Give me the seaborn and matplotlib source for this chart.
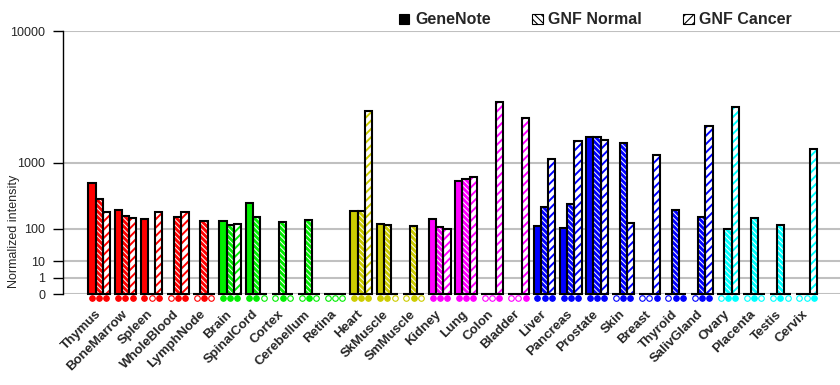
import numpy as np
import pandas as pd
import seaborn as sns
import matplotlib.pyplot as plt
import matplotlib.transforms as mtransforms
from matplotlib.patches import Rectangle, Patch

# data
tissues = ['Thymus', 'BoneMarrow', 'Spleen', 'WholeBlood', 'LymphNode',
           'Brain', 'SpinalCord', 'Cortex', 'Cerebellum', 'Retina',
           'Heart', 'SkMuscle', 'SmMuscle',
           'Kidney', 'Lung', 'Colon', 'Bladder',
           'Liver', 'Pancreas', 'Prostate', 'Skin', 'Breast', 'Thyroid', 'SalivGland',
           'Ovary', 'Placenta', 'Testis', 'Cervix']
groupColors = ['#ff0000'] * 5 + ['#00ee00'] * 5 + ['#cccc00'] * 3 + ['#ff00ff'] * 4 + \
              ['#0000ff'] * 7 + ['#00ffff'] * 4

geneNote = [570, 225, 157, 0, 0, 146, 300, 0, 0, 0, 217, 125, 0, 159, 616, 0, 0,
            116, 105, 1800, 0, 0, 0, 0, 0, 0, 0, 0]
gnfNormal = [343, 182, 0, 171, 146, 117, 171, 139, 150, 0, 217, 119, 116, 110, 652, 0, 0,
             260, 291, 1800, 1605, 0, 232, 169, 96, 167, 119, 0]
gnfCancer = [210, 167, 210, 210, 0, 127, 0, 0, 0, 0, 3030, 0, 0, 98, 691, 3550, 2670,
             1108, 1680, 1716, 133, 1200, 0, 2283, 3260, 0, 0, 1404]

# filled (1) / hollow (0) markers under the bars
markGN = [1, 1, 1, 0, 0, 1, 1, 0, 0, 0, 1, 1, 0, 1, 1, 0, 0, 1, 1, 1, 0, 0, 0, 0, 0, 0, 0, 0]
markNormal = [1, 1, 0, 1, 1, 1, 1, 1, 1, 0, 1, 1, 1, 1, 1, 0, 0, 1, 1, 1, 1, 0, 1, 1, 1, 1, 1, 0]
markCancer = [1, 1, 1, 1, 0, 1, 0, 0, 0, 0, 1, 0, 0, 1, 1, 1, 1, 1, 1, 1, 1, 1, 1, 1, 1, 0, 0, 1]

sources = ['GeneNote', 'GNF Normal', 'GNF Cancer']

df = pd.DataFrame({
    'tissue': tissues * 3,
    'source': np.repeat(sources, len(tissues)),
    'value': geneNote + gnfNormal + gnfCancer,
})

sns.set_style('white')
plt.rcParams['font.family'] = ['Liberation Sans', 'DejaVu Sans']
plt.rcParams['hatch.linewidth'] = 0.8

fig = plt.figure(figsize=(8.4, 3.85), dpi=100)
ax = fig.add_axes([0.0754, 0.2356, 0.9246, 0.6831])

sns.barplot(data=df, x='tissue', y='value', hue='source', order=tissues, hue_order=sources,
            palette=['black'] * 3, width=0.828, gap=0, saturation=1, legend=False,
            errorbar=None, ax=ax)

# power scale: every decade doubles the distance
p = np.log10(2)
fwd = lambda v: np.power(np.clip(v, 0, None), p)
inv = lambda v: np.power(np.clip(v, 0, None), 1 / p)
ax.set_yscale('function', functions=(fwd, inv))
ax.set_ylim(0, 10000)
ax.set_yticks([0, 1, 10, 100, 1000, 10000])
ax.set_yticklabels(['0', '1', '10', '100', '1000', '10000'])
ax.set_xlim(-1.37, 28.275)

hatches = [None, '\\' * 6, '/' * 4]
hatchLw = [0, 0.7, 1.4]
marks = [markGN, markNormal, markCancer]
for k, cont in enumerate(ax.containers):
    for i, bar in enumerate(cont):
        col = groupColors[i]
        x, w, h = bar.get_x(), bar.get_width(), bar.get_height()
        bar.set_linewidth(0)
        bar.set_facecolor('white' if k == 2 else col)
        z = bar.get_zorder()
        if hatches[k] is not None and h > 0:
            hc = 'white' if k == 1 else col
            hp = Rectangle((x, 0), w, h, facecolor='none', edgecolor=hc, lw=0,
                           hatch=hatches[k], zorder=z + 0.1)
            if hasattr(hp, 'set_hatch_linewidth'):
                hp.set_hatch_linewidth(hatchLw[k])
            ax.add_patch(hp)
        ax.add_patch(Rectangle((x, 0), w, h, fill=False, edgecolor='black', lw=1.5,
                               zorder=z + 0.2, clip_on=False))
        ax.scatter([x + w / 2], [-0.015], s=16, marker='o',
                   facecolor=col if marks[k][i] else 'white', edgecolor=col, lw=0.8,
                   transform=ax.get_xaxis_transform(), clip_on=False, zorder=5)

ax.yaxis.grid(True, color='#c0c0c0', lw=1.5)
ax.set_axisbelow(True)
for s in ['top', 'right', 'bottom']:
    ax.spines[s].set_visible(False)
ax.spines['left'].set_color('black')
ax.spines['left'].set_linewidth(1)

ax.tick_params(axis='y', which='major', length=7, width=1, color='black', left=True,
               labelsize=9, pad=6)
ax.tick_params(axis='x', length=0, pad=10)
ax.set_xticks(range(len(tissues)))
ax.set_xticklabels(tissues, rotation=45, ha='right', fontsize=9.5, fontweight='bold')
shift = mtransforms.ScaledTranslation(4 / 100, 0, fig.dpi_scale_trans)
for lab in ax.get_xticklabels():
    lab.set_transform(lab.get_transform() + shift)
ax.set_xlabel('')
ax.set_ylabel('Normalized intensity', fontsize=9)
ax.yaxis.set_label_coords(-0.0559, 0.239)

handles = [Patch(facecolor='black', edgecolor='black', lw=0.8),
           Patch(facecolor='white', edgecolor='black', hatch='\\' * 5, lw=0.8),
           Patch(facecolor='white', edgecolor='black', hatch='/' * 4, lw=0.8)]
fig.legend(handles, sources, loc='center left', bbox_to_anchor=(399 / 840, 1 - 20 / 385),
           ncol=3, frameon=False, prop={'size': 11.5, 'weight': 'bold'},
           handlelength=0.65, handleheight=0.65, handletextpad=0.35, columnspacing=2.6,
           borderaxespad=0, borderpad=0)

fig.savefig('out.png', dpi=100)
